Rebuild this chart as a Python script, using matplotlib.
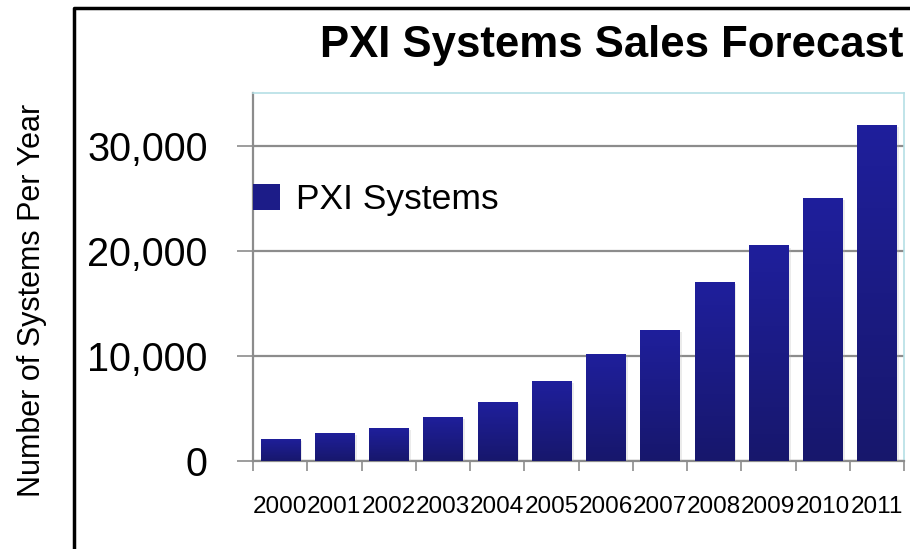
import matplotlib
matplotlib.use("Agg")
import matplotlib.pyplot as plt
import matplotlib.patheffects as pe
from matplotlib.lines import Line2D
from matplotlib.patches import Patch
from matplotlib.ticker import FuncFormatter
import numpy as np

years = ["2000", "2001", "2002", "2003", "2004", "2005",
         "2006", "2007", "2008", "2009", "2010", "2011"]
systems = [2100, 2700, 3100, 4200, 5600, 7600,
           10200, 12500, 17000, 20500, 25000, 32000]
series_name = "PXI Systems"
title = "PXI Systems Sales Forecast"
ylabel = "Number of Systems Per Year"

plt.rcParams['font.family'] = ['Liberation Sans', 'DejaVu Sans']

fig = plt.figure(figsize=(9.1, 5.49), dpi=100)
ax = fig.add_axes([253 / 910, 88 / 549, 651 / 910, 368 / 549])

x = np.arange(len(years))
bars = ax.bar(x, systems, width=0.72, color="#1c1c88", zorder=3,
              path_effects=[pe.SimplePatchShadow(offset=(2, -1.5), shadow_rgbFace="#b0b0b0", alpha=0.25),
                            pe.Normal()])

# vertical blue gradient on every bar
grad = np.linspace(0, 1, 256).reshape(-1, 1)
cmap = matplotlib.colors.LinearSegmentedColormap.from_list("bar", ["#17176c", "#1f1f9c"])
for b in bars:
    im = ax.imshow(grad, cmap=cmap, origin="lower", aspect="auto", zorder=4,
                   extent=[b.get_x(), b.get_x() + b.get_width(), 0, b.get_height()])
    im.set_clip_path(b)

ax.set_xlim(-0.5, len(years) - 0.5)
ax.set_ylim(0, 35000)

ax.set_yticks([0, 10000, 20000, 30000])
ax.yaxis.set_major_formatter(FuncFormatter(lambda v, p: f"{int(v):,}"))
ax.tick_params(axis="y", length=11.5, width=1.2, color="#8c8c8c", pad=21,
               labelsize=28.5)
ax.set_xticks(x)
ax.set_xticklabels(years)
ax.set_xticks(np.arange(len(years) + 1) - 0.5, minor=True)
ax.tick_params(axis="x", which="major", length=0, pad=25, labelsize=17.5)
ax.tick_params(axis="x", which="minor", length=7.2, width=1.2, color="#8c8c8c")

ax.grid(axis="y", color="#8c8c8c", linewidth=1.6, zorder=0)
ax.set_axisbelow(True)

for side in ("left", "bottom"):
    ax.spines[side].set_color("#8c8c8c")
    ax.spines[side].set_linewidth(1.6)
for side in ("top", "right"):
    ax.spines[side].set_color("#b5dfe5")
    ax.spines[side].set_linewidth(1.2)

leg = ax.legend(handles=[Patch(facecolor="#1c1c88", label=series_name)],
                loc="center left", bbox_to_anchor=(0.0, (461 - 200) / 368), frameon=False,
                fontsize=25.5, handlelength=0.75, handleheight=0.75, handletextpad=0.45,
                borderaxespad=0, borderpad=0)

fig.text(32 / 910, 1 - 300 / 549, ylabel, rotation=90, ha="center", va="center",
         fontsize=22)
fig.text(903 / 910, 1 - 45 / 549, title, ha="right", va="center",
         fontsize=31.5, fontweight="bold")

# black frame around the chart region
fig.add_artist(Line2D([74 / 910, 74 / 910, 1.0], [0.0, 1 - 8 / 549, 1 - 8 / 549],
                      transform=fig.transFigure, color="black", linewidth=2.5))

fig.savefig("out.png", dpi=100)
